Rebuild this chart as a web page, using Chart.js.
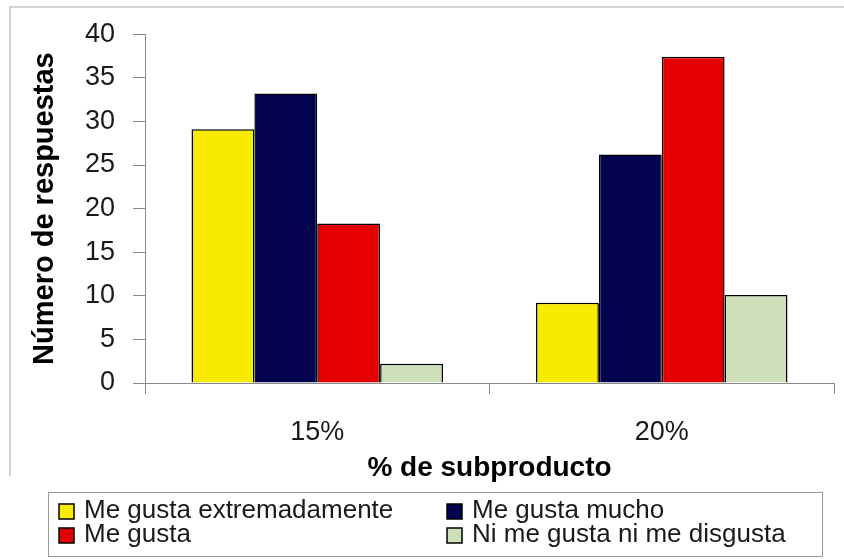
<!DOCTYPE html>
<html>
<head>
<meta charset="utf-8">
<script src="https://cdn.jsdelivr.net/npm/chart.js@4"></script>
<style>
  html, body { margin: 0; padding: 0; background: #fff; }
  canvas { display: block; }
</style>
</head>
<body>
<canvas id="chart" width="844" height="559"></canvas>
<script>
const categories = ["15%", "20%"];
const seriesNames = [
  "Me gusta extremadamente",
  "Me gusta mucho",
  "Me gusta",
  "Ni me gusta ni me disgusta",
];
const extremadamente = [29.1, 9.2];
const mucho = [33.2, 26.2];
const meGusta = [18.3, 37.4];
const indiferente = [2.2, 10.1];
const yTicks = [0, 5, 10, 15, 20, 25, 30, 35, 40];

const Config = {
  colors: {
    yellow: "#f8ea00",
    navy: "#02024f",
    red: "#e40000",
    green: "#cde0b9",
    axis: "#8a8a8a",
    frame: "#c4c4c4",
    text: "#1a1a1a",
  },
  font: `"Liberation Sans", Arial, sans-serif`,
};

Chart.defaults.font.family = Config.font;
Chart.defaults.color = Config.colors.text;

// legend in two columns, drawn under the x axis title
const gridLegend = {
  id: "gridLegend",
  afterDraw(chart) {
    const c = chart.ctx;
    const area = chart.chartArea;
    const left = area.left - 97;
    const top = area.bottom + 109;
    const width = 774;
    const height = 64;
    c.save();
    c.strokeStyle = "#9a9a9a";
    c.lineWidth = 1;
    c.strokeRect(left + 0.5, top + 0.5, width, height);
    c.font = `26px ${Config.font}`;
    c.textBaseline = "alphabetic";
    chart.data.datasets.forEach((ds, i) => {
      const col = i % 2;
      const row = Math.floor(i / 2);
      const bx = left + 11 + col * 388;
      const by = top + 12 + row * 24;
      c.fillStyle = ds.backgroundColor;
      c.fillRect(bx, by, 15, 15);
      c.strokeStyle = "#000";
      c.lineWidth = 1.5;
      c.strokeRect(bx, by, 15, 15);
      c.fillStyle = Config.colors.text;
      c.fillText(ds.label, bx + 25, by + 14);
    });
    c.restore();
  },
};

// thin frame of the scanned figure (top and left edges)
const frame = {
  id: "frame",
  beforeDraw(chart) {
    const c = chart.ctx;
    c.save();
    c.strokeStyle = Config.colors.frame;
    c.lineWidth = 1.5;
    c.beginPath();
    c.moveTo(10, 476);
    c.lineTo(10, 7);
    c.lineTo(chart.width, 7);
    c.stroke();
    c.restore();
  },
};

const dataset = (label, data, color) => ({
  label,
  data,
  backgroundColor: color,
  borderColor: "#000",
  borderWidth: 1.5,
  borderSkipped: "bottom",
  categoryPercentage: 0.73,
  barPercentage: 1,
});

new Chart(document.getElementById("chart"), {
  type: "bar",
  data: {
    labels: categories,
    datasets: [
      dataset(seriesNames[0], extremadamente, Config.colors.yellow),
      dataset(seriesNames[1], mucho, Config.colors.navy),
      dataset(seriesNames[2], meGusta, Config.colors.red),
      dataset(seriesNames[3], indiferente, Config.colors.green),
    ],
  },
  options: {
    responsive: false,
    animation: false,
    layout: {
      padding: { top: 33, right: 10, left: 0, bottom: 69 },
    },
    plugins: {
      legend: { display: false },
      tooltip: { enabled: false },
    },
    scales: {
      x: {
        grid: {
          display: true,
          drawOnChartArea: false,
          drawTicks: true,
          tickLength: 11,
          color: Config.colors.axis,
          offset: true,
        },
        border: { color: Config.colors.axis, width: 1 },
        ticks: {
          font: { size: 27 },
          color: Config.colors.text,
          padding: 22,
          maxRotation: 0,
        },
        title: {
          display: true,
          text: "% de subproducto",
          font: { size: 28, weight: "bold" },
          color: "#000",
          padding: { top: 0, bottom: 5 },
        },
        afterFit: (scale) => {
          scale.height = 107;
        },
      },
      y: {
        min: 0,
        max: 40,
        afterBuildTicks: (scale) => {
          scale.ticks = yTicks.map((v) => ({ value: v }));
        },
        grid: {
          display: true,
          drawOnChartArea: false,
          drawTicks: true,
          tickLength: 12,
          color: Config.colors.axis,
        },
        border: { color: Config.colors.axis, width: 1 },
        ticks: {
          font: { size: 27 },
          color: Config.colors.text,
          padding: 18,
        },
        title: {
          display: true,
          text: "Número de respuestas",
          font: { size: 29, weight: "bold" },
          color: "#000",
          padding: { top: 28, bottom: 0 },
        },
        afterFit: (scale) => {
          scale.width = 145;
        },
      },
    },
  },
  plugins: [frame, gridLegend],
});
</script>
</body>
</html>
